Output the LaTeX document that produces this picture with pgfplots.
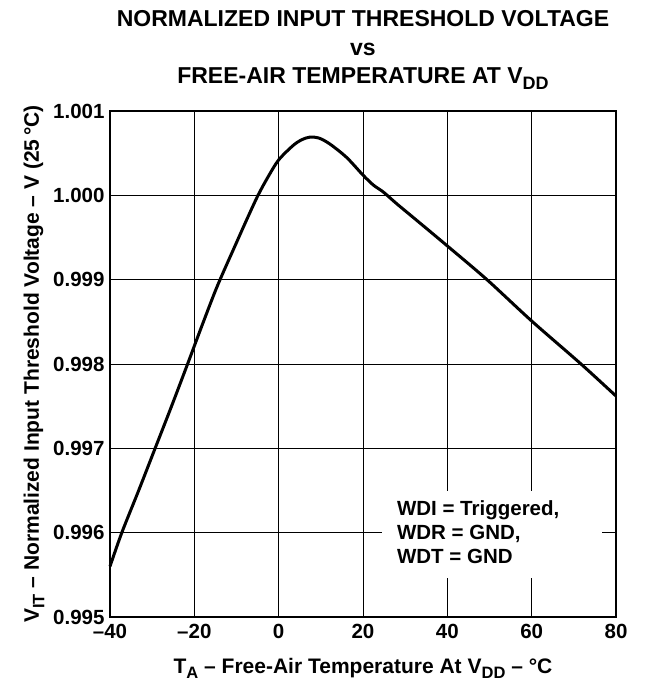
\documentclass[border=0pt]{standalone}
\usepackage{fontspec}
\setmainfont{Liberation Sans}
\usepackage{pgfplots}
\pgfplotsset{compat=1.18}
\newcommand\sub[2][16.5]{\raisebox{-5.5pt}{\fontsize{#1}{#1}\selectfont #2}}
\begin{document}
\begin{tikzpicture}
\begin{axis}[
  name=ax,
  width=506pt, height=506pt, scale only axis,
  xmin=-40, xmax=80, ymin=0.995, ymax=1.001,
  xtick={-40,-20,0,20,40,60,80},
  xticklabels={–40,–20,0,20,40,60,80},
  ytick={0.995,0.996,0.997,0.998,0.999,1.000,1.001},
  yticklabels={0.995,0.996,0.997,0.998,0.999,1.000,1.001},
  major tick length=0pt,
  grid=major,
  major grid style={black, line width=0.8pt},
  axis line style={black, line width=1.6pt},
  tick label style={font=\fontsize{20.5}{24}\selectfont\bfseries},
  xticklabel style={yshift=-4pt},
  yticklabel style={xshift=-2pt},
  xlabel={T\sub{A} – Free-Air Temperature At V\sub{DD} – °C},
  ylabel={V\sub{IT} – Normalized Input Threshold Voltage – V (25\,°C)},
  label style={font=\fontsize{21}{24}\selectfont\bfseries},
  xlabel shift=12pt,
  ylabel shift=2pt,
  title={NORMALIZED INPUT THRESHOLD VOLTAGE\\vs\\FREE-AIR TEMPERATURE AT V\sub[18]{DD}},
  title style={align=center, font=\fontsize{23}{28.5}\selectfont\bfseries, yshift=12pt},
  clip=false,
]
\addplot[black, line width=3pt, smooth, tension=0.5] coordinates {
(-40,0.99560) (-37.2,0.99600) (-33.2,0.99650) (-29.3,0.99700) (-25.4,0.99750)
(-21.6,0.99800) (-18,0.99848) (-14.5,0.99893)
(-10,0.99944) (-7.5,0.99972) (-4.9,1.00000) (-2.5,1.00022) (0,1.00042)
(3.4,1.00059) (5.5,1.00066) (7.4,1.00069) (9.5,1.00068) (12.1,1.00061)
(16.1,1.00045) (20,1.00024) (22.5,1.00012) (24.8,1.00004) (28,0.99990)
(32.7,0.999705) (40,0.99940) (49.4,0.99900) (60,0.99851) (71.7,0.99800)
(80,0.99762)
};
\node[fill=white, anchor=center, inner sep=0pt, minimum width=220pt, minimum height=87pt,
  font=\fontsize{20.5}{26}\selectfont\bfseries] at (axis cs:50.6,0.99598)
  {\makebox[220pt][l]{\hspace{15pt}\begin{tabular}{@{}l@{}}WDI = Triggered,\\[-2pt] WDR = GND,\\[-2pt] WDT = GND\end{tabular}}};
\end{axis}
\path (ax.south west) ++(-110pt,-72pt);
\path (ax.north east) ++(34pt,111pt);
\end{tikzpicture}
\end{document}
